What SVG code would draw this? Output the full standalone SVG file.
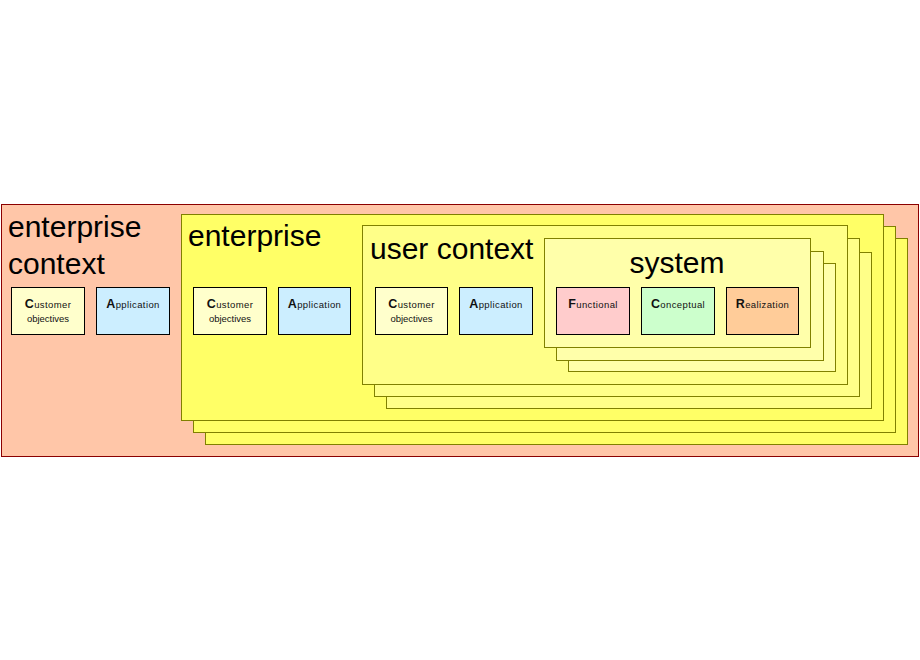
<svg xmlns="http://www.w3.org/2000/svg" width="920" height="660" viewBox="0 0 920 660">
<style>
  text { font-family: "Liberation Sans", Arial, sans-serif; fill: #000; }
  .title { font-size: 30px; }
  .small { font-size: 9.5px; fill: #111; }
  .lbl { letter-spacing: 0.4px; }
  .cap { font-size: 12.5px; font-weight: bold; }
  .outer { fill: #FFC6A8; stroke: #8B0000; stroke-width: 1; }
  .ent { fill: #FFFF66; stroke: #808000; stroke-width: 1; }
  .usr { fill: #FFFF88; stroke: #808000; stroke-width: 1; }
  .sys { fill: #FFFFAA; stroke: #808000; stroke-width: 1; }
  .box { stroke: #000; stroke-width: 1; }
  .cust { fill: #FFFFCC; }
  .app { fill: #CCEEFF; }
  .func { fill: #FFCCCC; }
  .conc { fill: #CCFFCC; }
  .real { fill: #FFCC99; }
</style>
<rect width="920" height="660" fill="#FFFFFF"/>

<g id="enterprise-context">
  <rect class="outer" x="1.5" y="204.5" width="917" height="252"/>
  <text class="title" x="8" y="237">enterprise</text>
  <text class="title" x="8" y="274">context</text>
</g>
<g id="ec-customer">
  <rect class="box cust" x="11.5" y="287.5" width="73" height="47"/>
  <text class="small lbl" x="48" y="308" text-anchor="middle"><tspan class="cap">C</tspan>ustomer</text>
  <text class="small" x="48" y="322" text-anchor="middle">objectives</text>
</g>
<g id="ec-application">
  <rect class="box app" x="96.5" y="287.5" width="73" height="47"/>
  <text class="small lbl" x="133" y="308" text-anchor="middle"><tspan class="cap">A</tspan>pplication</text>
</g>

<g id="enterprise">
  <rect class="ent" x="205.5" y="238.5" width="702" height="206"/>
  <rect class="ent" x="193.5" y="226.5" width="702" height="206"/>
  <rect class="ent" x="181.5" y="214.5" width="702" height="206"/>
  <text class="title" x="188" y="246">enterprise</text>
</g>
<g id="e-customer">
  <rect class="box cust" x="193.5" y="287.5" width="73" height="47"/>
  <text class="small lbl" x="230" y="308" text-anchor="middle"><tspan class="cap">C</tspan>ustomer</text>
  <text class="small" x="230" y="322" text-anchor="middle">objectives</text>
</g>
<g id="e-application">
  <rect class="box app" x="278.5" y="287.5" width="72" height="47"/>
  <text class="small lbl" x="314.5" y="308" text-anchor="middle"><tspan class="cap">A</tspan>pplication</text>
</g>

<g id="user-context">
  <rect class="usr" x="386.5" y="252.5" width="485" height="156"/>
  <rect class="usr" x="374.5" y="238.5" width="485" height="158"/>
  <rect class="usr" x="362.5" y="225.5" width="485" height="159"/>
  <text class="title" x="370" y="259">user context</text>
</g>
<g id="u-customer">
  <rect class="box cust" x="375.5" y="287.5" width="72" height="47"/>
  <text class="small lbl" x="411.5" y="308" text-anchor="middle"><tspan class="cap">C</tspan>ustomer</text>
  <text class="small" x="411.5" y="322" text-anchor="middle">objectives</text>
</g>
<g id="u-application">
  <rect class="box app" x="459.5" y="287.5" width="73" height="47"/>
  <text class="small lbl" x="496" y="308" text-anchor="middle"><tspan class="cap">A</tspan>pplication</text>
</g>

<g id="system">
  <rect class="sys" x="568.5" y="263.5" width="267" height="108"/>
  <rect class="sys" x="556.5" y="251.5" width="267" height="109"/>
  <rect class="sys" x="544.5" y="238.5" width="266" height="109"/>
  <text class="title" x="677" y="273" text-anchor="middle">system</text>
</g>
<g id="s-functional">
  <rect class="box func" x="556.5" y="287.5" width="73" height="47"/>
  <text class="small lbl" x="593" y="308" text-anchor="middle"><tspan class="cap">F</tspan>unctional</text>
</g>
<g id="s-conceptual">
  <rect class="box conc" x="641.5" y="287.5" width="73" height="47"/>
  <text class="small lbl" x="678" y="308" text-anchor="middle"><tspan class="cap">C</tspan>onceptual</text>
</g>
<g id="s-realization">
  <rect class="box real" x="726.5" y="287.5" width="72" height="47"/>
  <text class="small lbl" x="762.5" y="308" text-anchor="middle"><tspan class="cap">R</tspan>ealization</text>
</g>

<g id="connectors"></g>
</svg>
